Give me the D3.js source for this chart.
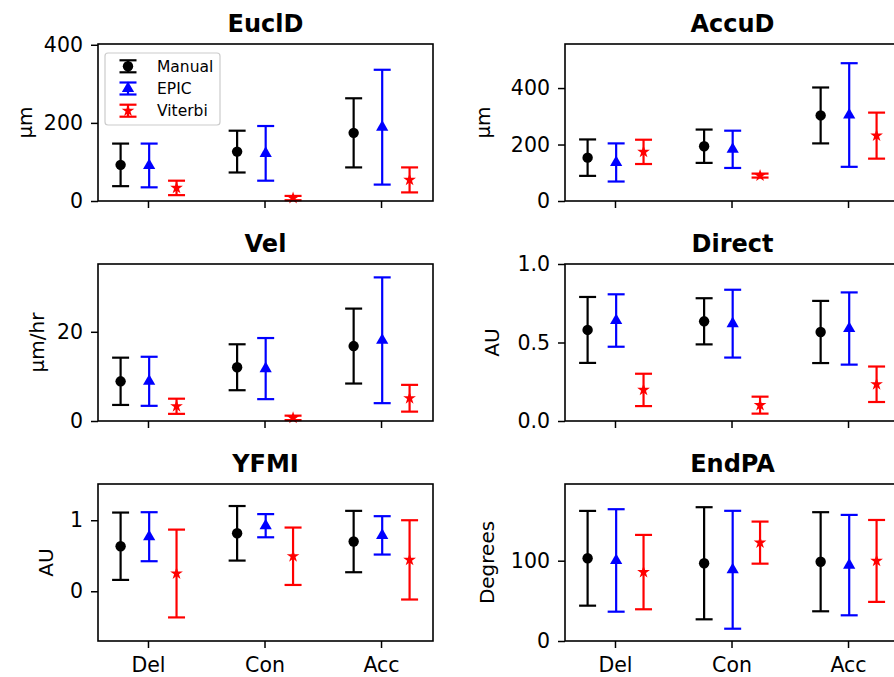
<!DOCTYPE html>
<meta charset="utf-8">
<title>Tracking metrics</title>
<style>
body { margin: 0; background: #fff; }
svg { display: block; font-family: "DejaVu Sans", sans-serif; }
</style>
<svg width="894" height="677"></svg>
<script src="https://cdn.jsdelivr.net/npm/d3@7/dist/d3.min.js"></script>
<script>
var categories = ["Del", "Con", "Acc"];
var seriesNames = ["Manual", "EPIC", "Viterbi"];

// mean and sd; one row per series (Manual, EPIC, Viterbi), one column per category
var euclDMean = [[92.5, 126.5, 174.5], [91, 122, 189], [33.5, 7.5, 54]];
var euclDSd   = [[54.5, 53.5, 88.5], [56, 70, 147], [18.5, 5.5, 32]];
var euclDLim  = [0, 402];
var euclDTicks = [0, 200, 400];

var accuDMean = [[153.5, 194, 303], [136.5, 183, 304.5], [174, 90, 231.5]];
var accuDSd   = [[64.5, 59, 99], [67.5, 66, 183.5], [43, 7, 81.5]];
var accuDLim  = [0, 556];
var accuDTicks = [0, 200, 400];

var velMean = [[8.9, 12.05, 16.8], [8.9, 11.75, 18.1], [3.3, 0.7, 5.1]];
var velSd   = [[5.3, 5.15, 8.4], [5.5, 6.85, 14.1], [1.7, 0.5, 3.0]];
var velLim  = [0, 35.2];
var velTicks = [0, 20];

var directMean = [[0.58, 0.635, 0.567], [0.64, 0.62, 0.589], [0.198, 0.101, 0.234]];
var directSd   = [[0.21, 0.147, 0.198], [0.167, 0.216, 0.23], [0.103, 0.054, 0.113]];
var directLim  = [0, 1];
var directTicks = [0, 0.5, 1.0];

var yfmiMean = [[0.634, 0.816, 0.70], [0.768, 0.923, 0.787], [0.25, 0.493, 0.442]];
var yfmiSd   = [[0.474, 0.384, 0.432], [0.345, 0.163, 0.27], [0.618, 0.404, 0.558]];
var yfmiLim  = [-0.70, 1.51];
var yfmiTicks = [0, 1];

var endPAMean = [[103, 96.8, 98.7], [100.3, 88.7, 94.5], [85.8, 122.5, 99.7]];
var endPASd   = [[59, 69.8, 61.7], [63.8, 73.4, 62.5], [46.3, 26.2, 51]];
var endPALim  = [0, 195.5];
var endPATicks = [0, 100];

var panels = [
  {title: "EuclD",  ylabel: "µm",      mean: euclDMean,  sd: euclDSd,  lim: euclDLim,  ticks: euclDTicks,  fmt: "d",   labelX: 25},
  {title: "AccuD",  ylabel: "µm",      mean: accuDMean,  sd: accuDSd,  lim: accuDLim,  ticks: accuDTicks,  fmt: "d",   labelX: 483},
  {title: "Vel",    ylabel: "µm/hr",   mean: velMean,    sd: velSd,    lim: velLim,    ticks: velTicks,    fmt: "d",   labelX: 37},
  {title: "Direct", ylabel: "AU",      mean: directMean, sd: directSd, lim: directLim, ticks: directTicks, fmt: ".1f", labelX: 492},
  {title: "YFMI",   ylabel: "AU",      mean: yfmiMean,   sd: yfmiSd,   lim: yfmiLim,   ticks: yfmiTicks,   fmt: "d",   labelX: 46},
  {title: "EndPA",  ylabel: "Degrees", mean: endPAMean,  sd: endPASd,  lim: endPALim,  ticks: endPATicks,  fmt: "d",   labelX: 487}
];

var colors = ["#000000", "#0000ff", "#ff0000"];
var offsets = [-0.235, 0.01, 0.245];
var symbols = [d3.symbolCircle, d3.symbolTriangle, d3.symbolStar];
var symbolSizes = [85, 65, 50];

var colX = [98, 565], rowY = [44, 264, 484];
var plotW = 335, plotH = 157, capW = 17;

var svg = d3.select("svg");

function drawErrorbar(g, cx, yTop, yBot, yMid, s) {
  g.append("line").attr("x1", cx).attr("x2", cx).attr("y1", yTop).attr("y2", yBot)
    .attr("stroke", colors[s]).attr("stroke-width", 2.2);
  [yTop, yBot].forEach(function(yy) {
    g.append("line").attr("x1", cx - capW / 2).attr("x2", cx + capW / 2).attr("y1", yy).attr("y2", yy)
      .attr("stroke", colors[s]).attr("stroke-width", 2.2);
  });
  g.append("path")
    .attr("d", d3.symbol().type(symbols[s]).size(symbolSizes[s])())
    .attr("transform", "translate(" + cx + "," + yMid + ")")
    .attr("fill", colors[s]);
}

panels.forEach(function(p, i) {
  var col = i % 2, row = Math.floor(i / 2);
  var left = colX[col], top = rowY[row];

  var x = d3.scaleLinear().domain([-0.429, 2.446]).range([left, left + plotW]);
  var y = d3.scaleLinear().domain(p.lim).range([top + plotH, top]);

  var g = svg.append("g");

  var yAxis = g.append("g")
    .attr("transform", "translate(" + left + ",0)")
    .call(d3.axisLeft(y).tickValues(p.ticks).tickSize(7).tickPadding(8).tickFormat(d3.format(p.fmt)));
  var xAxis = g.append("g")
    .attr("transform", "translate(0," + (top + plotH) + ")")
    .call(d3.axisBottom(x).tickValues([0, 1, 2]).tickSize(7).tickPadding(9)
      .tickFormat(function(d) { return row == 2 ? categories[d] : ""; }));
  [yAxis, xAxis].forEach(function(a) {
    a.select(".domain").remove();
    a.selectAll(".tick line").attr("stroke", "#000").attr("stroke-width", 1.5);
    a.selectAll(".tick text").attr("font-size", 20.5).attr("font-family", "DejaVu Sans").attr("fill", "#000");
  });

  g.append("text")
    .attr("transform", "translate(" + p.labelX + "," + (top + plotH / 2) + ") rotate(-90)")
    .attr("text-anchor", "middle")
    .attr("dy", "0.35em")
    .attr("font-size", 20)
    .text(p.ylabel);

  g.append("text")
    .attr("x", left + plotW / 2)
    .attr("y", top - 12.5)
    .attr("text-anchor", "middle")
    .attr("font-size", 24)
    .attr("font-weight", "bold")
    .text(p.title);

  seriesNames.forEach(function(name, s) {
    categories.forEach(function(c, k) {
      var m = p.mean[s][k], sd = p.sd[s][k];
      drawErrorbar(g, x(k + offsets[s]), y(m + sd), y(m - sd), y(m), s);
    });
  });

  g.append("rect")
    .attr("x", left).attr("y", top).attr("width", plotW).attr("height", plotH)
    .attr("fill", "none").attr("stroke", "#000").attr("stroke-width", 1.6);

  if (i == 0) {
    var lg = g.append("g");
    lg.append("rect")
      .attr("x", 105).attr("y", 53).attr("width", 115).attr("height", 72)
      .attr("rx", 3).attr("fill", "#fff").attr("fill-opacity", 0.8)
      .attr("stroke", "#cccccc").attr("stroke-width", 1.2);
    seriesNames.forEach(function(name, s) {
      var cy = 66.3 + s * 22.2;
      drawErrorbar(lg, 128, cy - 6, cy + 6, cy, s);
      lg.append("text")
        .attr("x", 157).attr("y", cy).attr("dy", "0.35em")
        .attr("font-size", 15.5)
        .text(name);
    });
  }
});
</script>
